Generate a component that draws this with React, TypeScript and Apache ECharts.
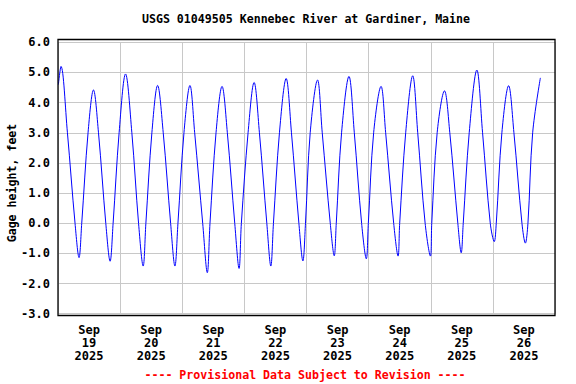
import React, { useEffect, useRef } from "react";
import * as echarts from "echarts";

// hours since Sep 19 2025 00:00
const hours = [
  0.15, 1.16, 3.64, 6.58, 8.13, 9.17, 11.61, 13.7, 15.64, 18.46, 20.13, 21.29, 23.61,
  26.09, 28.53, 31.12, 32.9, 33.95, 36.27, 38.48, 40.65, 43.51, 45.17, 46.34, 48.66,
  50.98, 52.8, 55.9, 57.68, 58.72, 61.05, 63.37, 65.42, 68.28, 69.95, 70.84, 73.43,
  75.76, 77.81, 80.67, 82.22, 83.23, 85.55, 88.14, 90.19, 93.06, 94.61, 95.61, 97.43,
  100.26, 102.08, 105.18, 106.72, 107.5, 109.55, 112.41, 114.47, 117.29, 119.11, 119.89,
  121.94, 124.8, 126.58, 129.68, 131.38, 132.0, 134.32, 137.03, 138.97, 141.83, 143.89,
  144.39, 146.48, 149.31, 151.36, 154.46, 155.77, 156.55, 158.86, 161.81, 164.02, 166.99,
  168.54, 169.31, 171.48, 174.08, 176.13, 179.23, 180.55, 181.55, 183.37, 186.35,
];
const gageHeight = [
  4.6, 5.2, 3.0, 0.0, -1.14, 0.0, 3.0, 4.42, 3.0, 0.0, -1.26, 0.0, 3.0,
  4.95, 3.0, 0.0, -1.42, 0.0, 3.0, 4.57, 3.0, 0.0, -1.42, 0.0, 3.0,
  4.57, 3.0, 0.0, -1.64, 0.0, 3.0, 4.54, 3.0, 0.0, -1.5, 0.0, 3.0,
  4.67, 3.0, 0.0, -1.42, 0.0, 3.0, 4.8, 3.0, 0.0, -1.25, 0.0, 3.0,
  4.75, 3.0, 0.0, -1.08, 0.0, 3.0, 4.87, 3.0, 0.0, -1.18, 0.0,
  3.0, 4.54, 3.0, 0.0, -1.09, 0.0, 3.0, 4.89, 3.0, 0.0, -1.09,
  0.0, 3.0, 4.39, 3.0, 0.0, -0.98, 0.0, 3.0, 5.08, 3.0, 0.0,
  -0.61, 0.0, 3.0, 4.56, 3.0, 0.0, -0.66, 0.0, 3.0, 4.82,
];
const dayLabels = [
  "Sep\n19\n2025", "Sep\n20\n2025", "Sep\n21\n2025", "Sep\n22\n2025",
  "Sep\n23\n2025", "Sep\n24\n2025", "Sep\n25\n2025", "Sep\n26\n2025",
];
const labelHours = [12, 36, 60, 84, 108, 132, 156, 180];
const yTicks = [-3, -2, -1, 0, 1, 2, 3, 4, 5, 6];

const TITLE = "USGS 01049505 Kennebec River at Gardiner, Maine";
const Y_NAME = "Gage height, feet";
const FOOTER = "---- Provisional Data Subject to Revision ----";
const FONT = "'DejaVu Sans Mono', 'Liberation Mono', monospace";

export default function App() {
  const ref = useRef<HTMLDivElement>(null);
  useEffect(() => {
    if (!ref.current) return;
    const chart = echarts.init(ref.current, undefined, { renderer: "svg" });
    chart.setOption({
      animation: false,
      backgroundColor: "#ffffff",
      grid: { left: 58, right: 21, top: 42.3, bottom: 70.3, containLabel: false },
      xAxis: {
        type: "value",
        min: 0,
        max: 192,
        interval: 24,
        axisLine: { show: false },
        axisTick: { show: false },
        splitLine: { show: true, lineStyle: { color: "#c8c8c8", width: 1 } },
        axisLabel: {
          customValues: labelHours,
          formatter: (v: number) => dayLabels[Math.floor(v / 24)] ?? "",
          color: "#000",
          fontFamily: FONT,
          fontWeight: "bold",
          fontSize: 12,
          lineHeight: 13,
          margin: 10,
        },
      },
      yAxis: {
        type: "value",
        min: -3,
        max: 6,
        interval: 1,
        axisLine: { show: false },
        axisTick: { show: false },
        splitLine: { show: true, lineStyle: { color: "#c8c8c8", width: 1 } },
        axisLabel: {
          formatter: (v: number) => (yTicks.includes(v) ? v.toFixed(1) : ""),
          color: "#000",
          fontFamily: FONT,
          fontWeight: "bold",
          fontSize: 12,
          margin: 8,
        },
      },
      series: [
        {
          type: "line",
          data: hours.map((h, i) => [h, gageHeight[i]]),
          showSymbol: false,
          smooth: 0.35,
          lineStyle: { color: "#0000ff", width: 1 },
          clip: true,
        },
      ],
      graphic: [
        {
          type: "rect",
          shape: { x: 58, y: 39.5, width: 497, height: 276 },
          style: { fill: "none", stroke: "#000", lineWidth: 1.3 },
          silent: true,
          z: 100,
        },
        {
          type: "text",
          x: 306,
          y: 19,
          style: {
            text: TITLE,
            fill: "#000",
            font: `bold 11.6px ${FONT}`,
            textAlign: "center",
            textVerticalAlign: "middle",
          },
        },
        {
          type: "text",
          x: 12,
          y: 183,
          rotation: Math.PI / 2,
          style: {
            text: Y_NAME,
            fill: "#000",
            font: `bold 11.6px ${FONT}`,
            textAlign: "center",
            textVerticalAlign: "middle",
          },
        },
        {
          type: "text",
          x: 305,
          y: 375,
          style: {
            text: FOOTER,
            fill: "#ff0000",
            font: `bold 11.6px ${FONT}`,
            textAlign: "center",
            textVerticalAlign: "middle",
          },
        },
      ],
    });
    return () => chart.dispose();
  }, []);
  return (
    <div
      ref={ref}
      style={{ position: "fixed", left: 0, top: 0, width: 576, height: 384 }}
    />
  );
}
